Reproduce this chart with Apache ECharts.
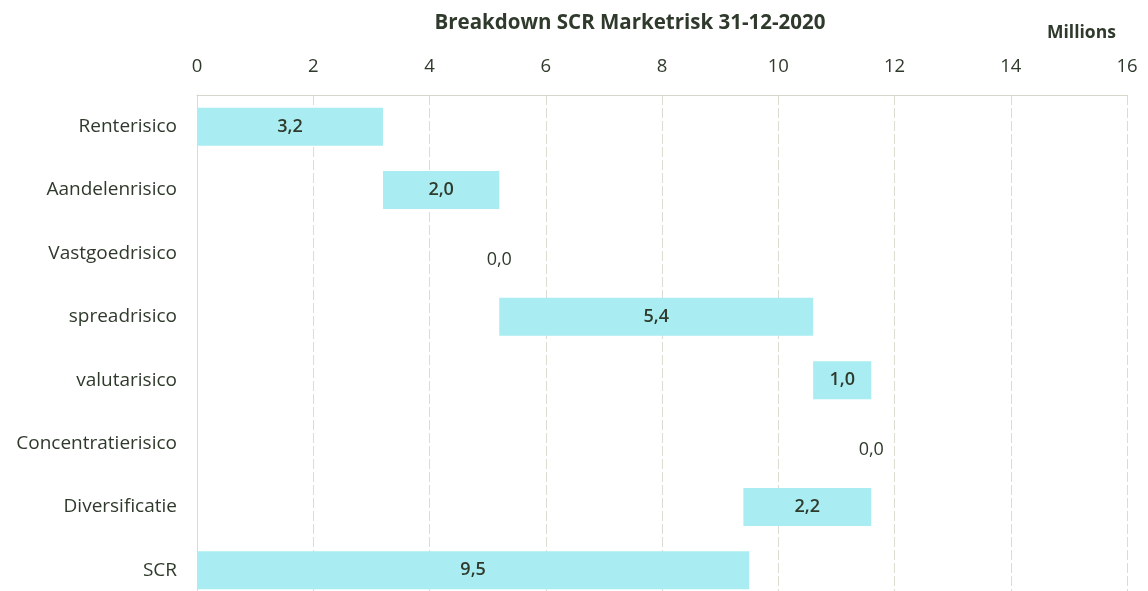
<!DOCTYPE html>
<html>
<head>
<meta charset="utf-8">
<script src="https://cdn.jsdelivr.net/npm/echarts@6/dist/echarts.min.js"></script>
<style>html,body{margin:0;padding:0;background:#fff;}#c{width:1148px;height:591px;}</style>
</head>
<body>
<div id="c"></div>
<script>
const categories = ['Renterisico','Aandelenrisico','Vastgoedrisico','spreadrisico','valutarisico','Concentratierisico','Diversificatie','SCR'];
const values = [3.2, 2.0, 0.0, 5.4, 1.0, 0.0, 2.2, 9.5];
const xTicks = [0, 2, 4, 6, 8, 10, 12, 14, 16];

// waterfall offsets derived from the values
const base = [];
let run = 0;
for (let i = 0; i < 6; i++) { base.push(run); run += values[i]; }
base.push(run - values[6]);   // Diversificatie: reduction from the running total
base.push(0);                 // SCR total starts at 0

const txt = '#2f3a2c';
const chart = echarts.init(document.getElementById('c'));
chart.setOption({
  animation: false,
  title: {
    text: 'Breakdown SCR Marketrisk 31-12-2020',
    left: 625, top: 8, textAlign: 'center',
    textStyle: { fontFamily: 'Open Sans', fontSize: 20.5, fontWeight: 'bold', color: txt }
  },
  graphic: [{
    type: 'text', left: 1047, top: 24,
    style: { text: 'Millions', fontFamily: 'Open Sans', fontSize: 17.5, fontWeight: 'bold', fill: txt }
  }],
  grid: { left: 197, right: 21, top: 95, height: 507, outerBoundsMode: 'none' },
  xAxis: {
    type: 'value', position: 'top', min: xTicks[0], max: xTicks[xTicks.length - 1], interval: 2,
    axisLine: { show: true, lineStyle: { color: '#d6d6cc', width: 1 } },
    axisTick: { show: false },
    axisLabel: { margin: 19, fontFamily: 'Open Sans', fontSize: 18.5, color: txt },
    splitLine: { show: true, lineStyle: { color: '#dcdcd0', type: [10, 3], width: 1 } }
  },
  yAxis: {
    type: 'category', data: categories, inverse: true,
    axisLine: { show: true, lineStyle: { color: '#dcdcd0' } },
    axisTick: { show: false },
    axisLabel: { margin: 20, fontFamily: 'Open Sans', fontSize: 19, color: txt }
  },
  series: [
    {
      type: 'bar', stack: 'w', barWidth: '60%',
      data: base,
      itemStyle: { color: 'transparent' }, silent: true
    },
    {
      type: 'bar', stack: 'w', barWidth: '60%',
      data: values.map(v => v === 0 ? { value: v, label: { fontWeight: 'normal', offset: [0, 6] } } : v),
      itemStyle: { color: '#a9ecf1' },
      label: {
        show: true, position: 'inside',
        fontFamily: 'Open Sans', fontSize: 18, color: txt, fontWeight: 600,
        formatter: p => p.value.toFixed(1).replace('.', ',')
      }
    }
  ]
});
</script>
</body>
</html>
